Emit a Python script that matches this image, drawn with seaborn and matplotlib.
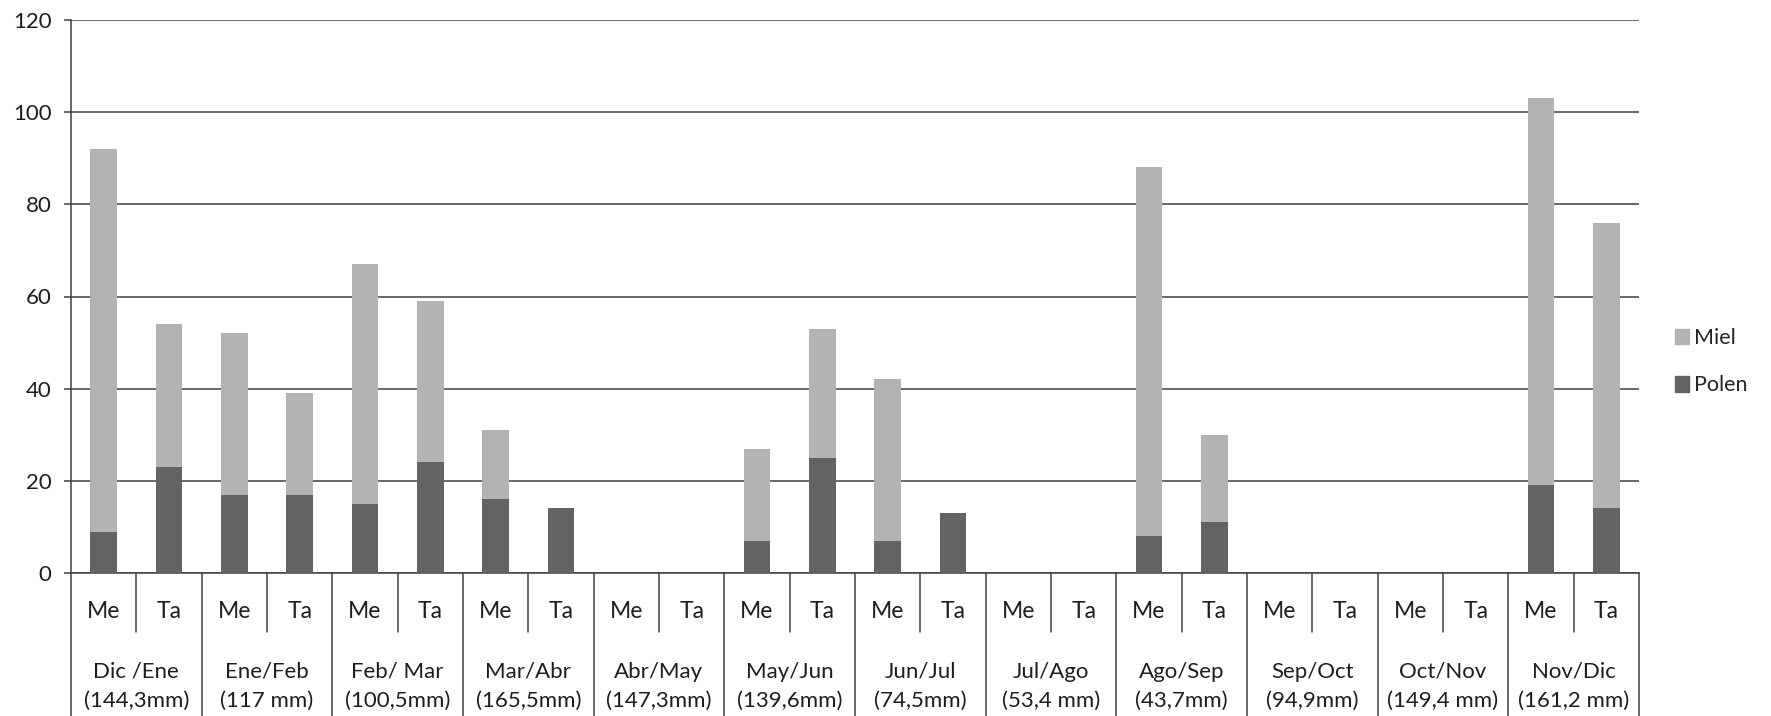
import matplotlib
matplotlib.use("Agg")
import matplotlib.pyplot as plt
import seaborn as sns
import pandas as pd
from matplotlib.patches import Patch
from matplotlib.transforms import blended_transform_factory

# Periods (two-month windows) and rainfall for each one
periodos = ["Dic /Ene", "Ene/Feb", "Feb/ Mar", "Mar/Abr", "Abr/May", "May/Jun",
            "Jun/Jul", "Jul/Ago", "Ago/Sep", "Sep/Oct", "Oct/Nov", "Nov/Dic"]
lluvia = ["(144,3mm)", "(117 mm)", "(100,5mm)", "(165,5mm)", "(147,3mm)", "(139,6mm)",
          "(74,5mm)", "(53,4 mm)", "(43,7mm)", "(94,9mm)", "(149,4 mm)", "(161,2 mm)"]
subgrupos = ["Me", "Ta"]

# Stacked values: Polen at the base, Miel on top
polen_me = [9, 17, 15, 16, 0, 7, 7, 0, 8, 0, 0, 19]
polen_ta = [23, 17, 24, 14, 0, 25, 13, 0, 11, 0, 0, 14]
miel_me = [83, 35, 52, 15, 0, 20, 35, 0, 80, 0, 0, 84]
miel_ta = [31, 22, 35, 0, 0, 28, 0, 0, 19, 0, 0, 62]

yticks = [0, 20, 40, 60, 80, 100, 120]

COLOR_MIEL = "#b3b3b3"
COLOR_POLEN = "#636363"
LINE = "#404040"
TXT = "#1e1e1e"

rows = []
for i, p in enumerate(periodos):
    for s, pol, mie in ((subgrupos[0], polen_me[i], miel_me[i]),
                        (subgrupos[1], polen_ta[i], miel_ta[i])):
        rows.append({"clave": f"{p}|{s}", "periodo": p, "sub": s,
                     "polen": pol, "miel": mie, "total": pol + mie})
df = pd.DataFrame(rows)
orden = list(df["clave"])

sns.set_theme(style="white")
plt.rcParams["font.family"] = ["Lato", "DejaVu Sans"]

W, H = 1771, 716
fig = plt.figure(figsize=(W / 100, H / 100), dpi=100)
x0, x1, ytop, ybase = 71, 1639, 20, 573
ax = fig.add_axes([x0 / W, 1 - ybase / H, (x1 - x0) / W, (ybase - ytop) / H])

# Total height (light) first, then Polen (dark) over its lower part
sns.barplot(data=df, x="clave", y="total", order=orden, color=COLOR_MIEL,
            saturation=1, width=0.405, errorbar=None, linewidth=0, ax=ax, zorder=3)
sns.barplot(data=df, x="clave", y="polen", order=orden, color=COLOR_POLEN,
            saturation=1, width=0.405, errorbar=None, linewidth=0, ax=ax, zorder=4)

ax.set_xlim(-0.5, len(orden) - 0.5)
ax.set_ylim(0, 120)
ax.set_yticks(yticks)
ax.set_xticks([])
ax.set_xlabel("")
ax.set_ylabel("")
ax.grid(axis="y", color=LINE, linewidth=1.1)
ax.grid(axis="x", visible=False)
ax.set_axisbelow(True)
for side in ("top", "right"):
    ax.spines[side].set_visible(False)
for side in ("left", "bottom"):
    ax.spines[side].set_color(LINE)
    ax.spines[side].set_linewidth(1.1)
ax.tick_params(axis="y", left=True, length=5, width=1.1, color=LINE,
               pad=9, labelsize=16, labelcolor=TXT)

# Two-level category table under the axis
tr = blended_transform_factory(ax.transData, ax.transAxes)
hax = ybase - ytop
y_sub_end = -(632 - ybase) / hax
y_bottom = -(H - ybase) / hax
y_sub_txt = -(612 - ybase) / hax
y_l1 = -(672 - ybase) / hax
y_l2 = -(701 - ybase) / hax

for g in range(len(periodos) + 1):
    xb = -0.5 + 2 * g
    ax.plot([xb, xb], [0, y_bottom], transform=tr, color=LINE, lw=1.1, clip_on=False)
for g in range(len(periodos)):
    xs = 0.5 + 2 * g
    ax.plot([xs, xs], [0, y_sub_end], transform=tr, color=LINE, lw=1.1, clip_on=False)
    for k, s in enumerate(subgrupos):
        ax.text(2 * g + k, y_sub_txt, s, transform=tr, ha="center", va="center",
                fontsize=16.5, color=TXT)
    ax.text(2 * g + 0.5, y_l1, periodos[g], transform=tr, ha="center", va="center",
            fontsize=16, color=TXT)
    ax.text(2 * g + 0.5, y_l2, lluvia[g], transform=tr, ha="center", va="center",
            fontsize=16, color=TXT)

handles = [Patch(color=COLOR_MIEL, label="Miel"), Patch(color=COLOR_POLEN, label="Polen")]
fig.legend(handles=handles, loc="upper left", bbox_to_anchor=(1675 / W, 1 - 328 / H),
           frameon=False, fontsize=15.5, handlelength=0.65, handleheight=0.75,
           handletextpad=0.25, labelspacing=1.26, borderaxespad=0, borderpad=0)

fig.savefig("out.png", dpi=100, facecolor="white")
